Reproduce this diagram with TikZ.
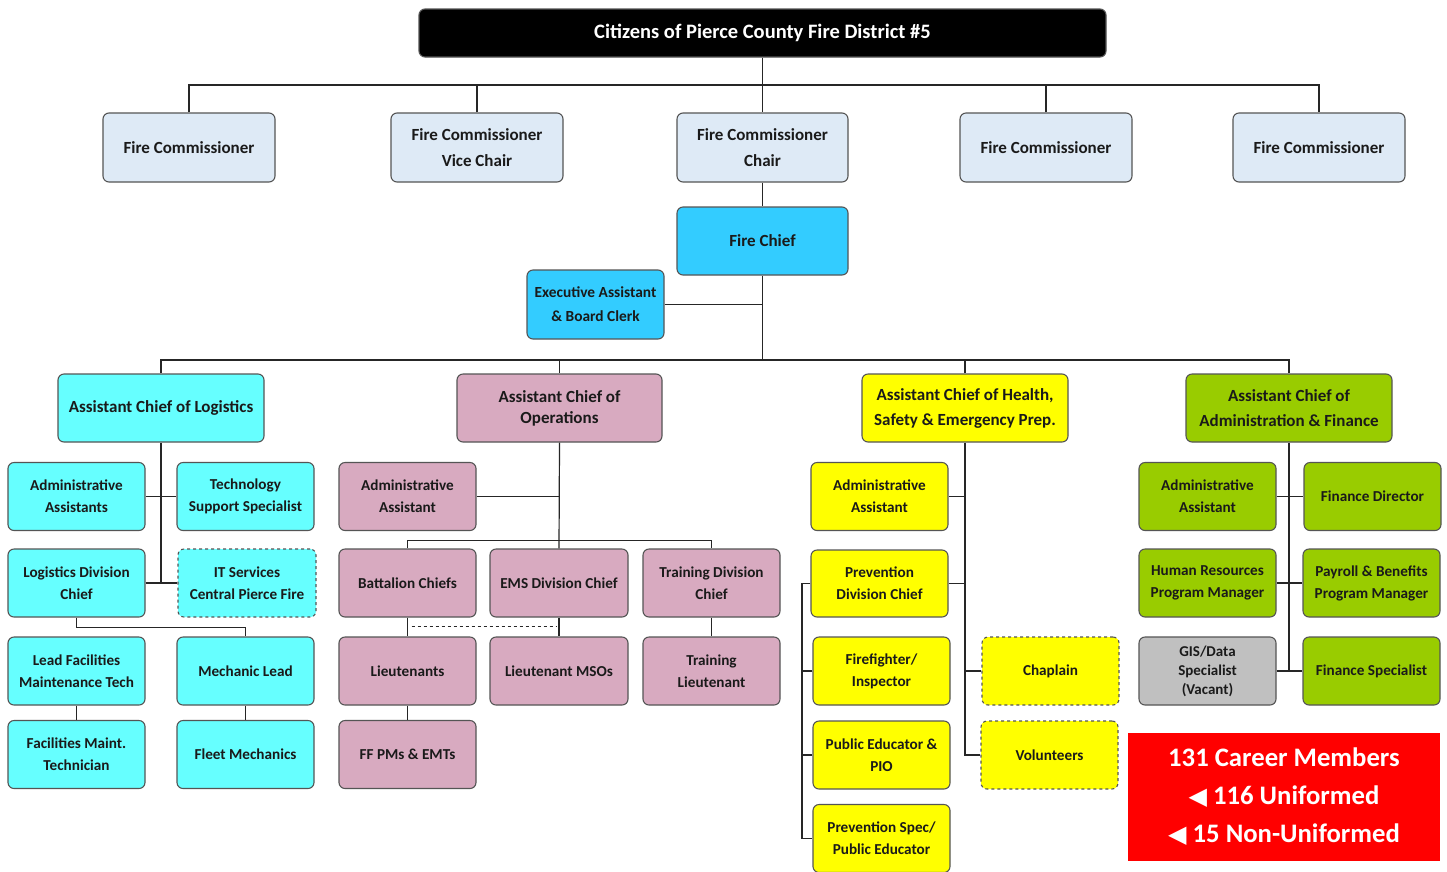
\documentclass[tikz,border=0pt]{standalone}
\usepackage{fontspec}
\setmainfont{Carlito}
\newfontfamily\symfont{DejaVu Sans}
\definecolor{comm}{HTML}{DEEAF6}
\definecolor{chiefc}{HTML}{33CCFF}
\definecolor{logc}{HTML}{66FFFF}
\definecolor{opsc}{HTML}{D8AAC0}
\definecolor{hspc}{HTML}{FFFF00}
\definecolor{admc}{HTML}{99CC00}
\definecolor{gisc}{HTML}{C0C0C0}
\definecolor{redc}{HTML}{FF0000}
\definecolor{edge}{HTML}{555555}
\definecolor{txt}{HTML}{1A1A1A}
\begin{document}
\begin{tikzpicture}[x=1pt,y=-1pt,
  box/.style={draw=edge, rounded corners=6pt, line width=1.1pt, align=center, inner sep=1pt,
    text=txt, font=\bfseries\fontsize{15.2}{22}\selectfont, minimum width=137pt, minimum height=68pt},
  cbox/.style={box, fill=comm, minimum width=172pt, minimum height=69pt, font=\bfseries\fontsize{17}{26}\selectfont},
  acbox/.style={box, minimum width=206pt, minimum height=68pt, font=\bfseries\fontsize{17}{25}\selectfont},
  dbox/.style={box, dashed},
  conn/.style={line width=1.2pt, draw=black!85}]
\useasboundingbox (0,0) rectangle (1447,871);
\fill[white] (0,0) rectangle (1447,871);

% top
\node[box, fill=black, text=white, minimum width=687pt, minimum height=48pt, font=\bfseries\fontsize{20.5}{22}\selectfont] (top) at (762.5,33) {Citizens of Pierce County Fire District \#5};

% commissioners
\node[cbox] (fc1) at (189,147.5) {Fire Commissioner};
\node[cbox] (fcv) at (477,147.5) {Fire Commissioner\\Vice Chair};
\node[cbox, minimum width=171pt] (fcc) at (762.5,147.5) {Fire Commissioner\\Chair};
\node[cbox] (fc4) at (1046,147.5) {Fire Commissioner};
\node[cbox] (fc5) at (1319,147.5) {Fire Commissioner};

\node[cbox, fill=chiefc, minimum width=171pt, minimum height=68pt] (chief) at (762.5,241) {Fire Chief};
\node[box, fill=chiefc, minimum height=69pt, font=\bfseries\fontsize{15.4}{24}\selectfont] (exec) at (595.5,304.5) {Executive Assistant\\\& Board Clerk};

% assistant chiefs
\node[acbox, fill=logc] (log) at (161,408) {Assistant Chief of Logistics};
\node[acbox, fill=opsc, minimum width=205pt, font=\bfseries\fontsize{17}{21}\selectfont] (ops) at (559.5,408) {Assistant Chief of\\Operations};
\node[acbox, fill=hspc] (hsp) at (965,408) {Assistant Chief of Health,\\Safety \& Emergency Prep.};
\node[acbox, fill=admc] (adm) at (1289,408) {Assistant Chief of\\Administration \& Finance};

% logistics
\node[box, fill=logc] (la1) at (76.5,496.5) {Administrative\\Assistants};
\node[box, fill=logc] (la2) at (245.5,496.5) {Technology\\Support Specialist};
\node[box, fill=logc] (ldc) at (76.5,583) {Logistics Division\\Chief};
\node[dbox, fill=logc, minimum width=138pt] (its) at (247,583) {IT Services\\Central Pierce Fire};
\node[box, fill=logc] (lft) at (76.5,671) {Lead Facilities\\Maintenance Tech};
\node[box, fill=logc] (mech) at (245.5,671) {Mechanic Lead};
\node[box, fill=logc] (fmt) at (76.5,754.5) {Facilities Maint.\\Technician};
\node[box, fill=logc] (flt) at (245.5,754.5) {Fleet Mechanics};

% operations
\node[box, fill=opsc] (oaa) at (407.5,496.5) {Administrative\\Assistant};
\node[box, fill=opsc] (bat) at (407.5,583) {Battalion Chiefs};
\node[box, fill=opsc, minimum width=138pt] (ems) at (559,583) {EMS Division Chief};
\node[box, fill=opsc] (tdc) at (711.5,583) {Training Division\\Chief};
\node[box, fill=opsc] (lt) at (407.5,671) {Lieutenants};
\node[box, fill=opsc, minimum width=138pt] (msos) at (559,671) {Lieutenant MSOs};
\node[box, fill=opsc] (tlt) at (711.5,671) {Training\\Lieutenant};
\node[box, fill=opsc] (ffp) at (407.5,754.5) {FF PMs \& EMTs};

% health & safety
\node[box, fill=hspc] (haa) at (879.5,496.5) {Administrative\\Assistant};
\node[box, fill=hspc, minimum height=67pt] (pdc) at (879.5,583.5) {Prevention\\Division Chief};
\node[box, fill=hspc] (ffi) at (881.5,671) {Firefighter/\\Inspector};
\node[box, fill=hspc] (pep) at (881.5,755) {Public Educator \&\\PIO};
\node[box, fill=hspc] (psp) at (881.5,838.5) {Prevention Spec/\\Public Educator};
\node[dbox, fill=hspc] (chp) at (1050.5,671) {Chaplain};
\node[dbox, fill=hspc] (vol) at (1049.5,755) {Volunteers};

% administration & finance
\node[box, fill=admc] (aaa) at (1207.5,496.5) {Administrative\\Assistant};
\node[box, fill=admc] (fdir) at (1372.5,496.5) {Finance Director};
\node[box, fill=admc] (hr) at (1207.5,583) {Human Resources\\Program Manager};
\node[box, fill=admc] (pay) at (1371.5,583) {Payroll \& Benefits\\Program Manager};
\node[box, fill=gisc, font=\bfseries\fontsize{15}{19}\selectfont] (gis) at (1207.5,671) {GIS/Data\\Specialist\\(Vacant)};
\node[box, fill=admc] (fsp) at (1371.5,671) {Finance Specialist};

% red box
\node[fill=redc, text=white, minimum width=312pt, minimum height=128pt, align=center, inner sep=0pt,
  font=\bfseries\fontsize{26.7}{38}\selectfont] (red) at (1284,797)
  {131 Career Members\\{\symfont\fontsize{24}{38}\selectfont ◀}\ 116 Uniformed\\{\symfont\fontsize{24}{38}\selectfont ◀}\ 15 Non-Uniformed};

% connectors
\coordinate (bus) at (0,85);
\coordinate (bus2) at (0,360);
\coordinate (hb) at (802,0);
\begin{scope}[conn]
\draw (top.south) -- (fcc.north);
\draw (fc1.north) |- (bus -| fc5.north) -- (fc5.north);
\draw (fcv.north) -- (fcv.north |- bus);
\draw (fc4.north) -- (fc4.north |- bus);
\draw (fcc.south) -- (chief.north);
\draw (chief.south) -- (chief.south |- bus2);
\draw (exec.east) -- (exec.east -| chief.south);
\draw (log.north) |- (bus2 -| adm.north) -- (adm.north);
\draw (ops.north) -- (ops.north |- bus2);
\draw (hsp.north) -- (hsp.north |- bus2);
% logistics
\draw (log.south) -- (log.south |- ldc.east);
\draw (la1.east) -- (la2.west);
\draw (ldc.east) -- (its.west);
\draw (ldc.south) -- ++(0,10) -| (mech.north);
\draw (lft.south) -- (fmt.north);
\draw (mech.south) -- (flt.north);
% operations
\draw (ops.south) -- (ems.north);
\draw (oaa.east) -- (oaa.east -| ops.south);
\draw (bat.north) -- ++(0,-8) -| (tdc.north);
\draw (bat.south) -- (lt.north);
\draw (ems.south) -- (msos.north);
\draw (tdc.south) -- (tlt.north);
\draw (lt.south) -- (ffp.north);
\draw[dashed, line width=1pt] ([xshift=4pt,yshift=-9pt]bat.south) -- ([xshift=-3pt,yshift=-9pt]ems.south);
% health
\draw (hsp.south) |- (vol.west);
\draw (haa.east) -- (haa.east -| hsp.south);
\draw (pdc.east) -- (pdc.east -| hsp.south);
\draw (chp.west) -- (chp.west -| hsp.south);
\draw (pdc.west) -| (hb |- psp.west) -- (psp.west);
\draw (ffi.west) -- (ffi.west -| hb);
\draw (pep.west) -- (pep.west -| hb);
% admin
\draw (adm.south) -- (adm.south |- fsp.west);
\draw (aaa.east) -- (fdir.west);
\draw (hr.east) -- (pay.west);
\draw (gis.east) -- (fsp.west);
\end{scope}
\end{tikzpicture}
\end{document}
